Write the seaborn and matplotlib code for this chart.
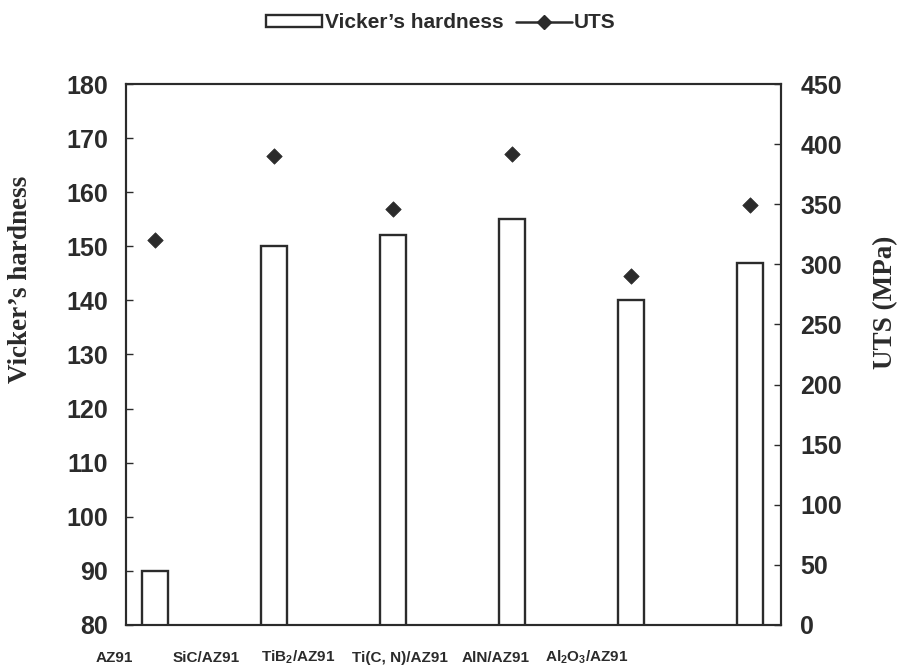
import numpy as np
import pandas as pd
import matplotlib
matplotlib.use("Agg")
import matplotlib.pyplot as plt
import matplotlib.transforms as mtransforms
import seaborn as sns
from matplotlib.patches import Patch
from matplotlib.lines import Line2D

# ---------------- data ----------------
categories = ["AZ91", "SiC/AZ91", "TiB2/AZ91", "Ti(C, N)/AZ91", "AlN/AZ91", "Al2O3/AZ91"]
tick_labels = ["AZ91", "SiC/AZ91", "TiB$_2$/AZ91", "Ti(C, N)/AZ91", "AlN/AZ91", "Al$_2$O$_3$/AZ91"]
hardness = [90, 150, 152, 155, 140, 147]
uts = [320, 390, 346, 392, 290, 349]
left_ticks = [80, 90, 100, 110, 120, 130, 140, 150, 160, 170, 180]
right_ticks = [0, 50, 100, 150, 200, 250, 300, 350, 400, 450]

# label placement (style): the original labels are shifted left of the bars
label_shift = [-0.34, -0.57, -0.80, -0.94, -1.14, -1.37]

# ---------------- style ----------------
sns.set_theme(style="white")
plt.rcParams["font.family"] = ["Liberation Sans", "DejaVu Sans"]
plt.rcParams["font.weight"] = "bold"
plt.rcParams["mathtext.fontset"] = "custom"
plt.rcParams["mathtext.bf"] = "Liberation Sans:bold"
plt.rcParams["mathtext.rm"] = "Liberation Sans:bold"
plt.rcParams["mathtext.default"] = "bf"

ink = "#2b2b2b"

df = pd.DataFrame({"cat": categories, "hardness": hardness, "uts": uts})

fig = plt.figure(figsize=(9.05, 6.7), dpi=100)
ax = fig.add_axes([126 / 905, 1 - 625 / 670, (781 - 126) / 905, (625 - 84) / 670])

sns.barplot(data=df, x="cat", y="hardness", ax=ax, width=0.218,
            color="white", edgecolor=ink, linewidth=1.7, saturation=1)

ax2 = ax.twinx()
sns.scatterplot(x=np.arange(len(uts)), y=df["uts"], ax=ax2, marker="D", s=62,
                color=ink, edgecolor=ink, linewidth=0.5, legend=False)

ax.set_xticks([])
ax.set_xlim(-0.244, 5.26)
ax.set_ylim(80, 180)
ax2.set_ylim(0, 450)
ax.set_yticks(left_ticks)
ax2.set_yticks(right_ticks)

# category labels, placed through the data (x) / axes (y) blended transform
trans = mtransforms.blended_transform_factory(ax.transData, ax.transAxes)
for i, (lab, s) in enumerate(zip(tick_labels, label_shift)):
    ax.text(i + s, (625 - 662) / 541, lab, transform=trans, ha="center",
            va="baseline", fontsize=11, fontweight="bold", color=ink, clip_on=False)

ax.tick_params(axis="y", direction="in", length=5, width=1, color=ink,
               labelsize=18, pad=13, labelcolor=ink, left=True)
ax2.tick_params(axis="y", direction="in", length=5, width=1, color=ink,
                labelsize=18, pad=14, labelcolor=ink, right=True)

ax.set_xlabel("")
ax.set_ylabel("Vicker\u2019s hardness", family=["Liberation Serif"], fontsize=19.5,
              fontweight="bold", color=ink)
ax.yaxis.set_label_coords((33 - 126) / 655, (625 - 279) / 541)
ax2.set_xlabel("")
ax2.set_ylabel("UTS (MPa)", family=["Liberation Serif"], fontsize=19.5,
               fontweight="bold", color=ink)
ax2.yaxis.set_label_coords((873 - 126) / 655, (625 - 302) / 541)

for a in (ax, ax2):
    for sp in a.spines.values():
        sp.set_visible(True)
        sp.set_color(ink)
        sp.set_linewidth(1.5)

handles = [Patch(facecolor="white", edgecolor=ink, linewidth=1.7),
           Line2D([0], [0], color=ink, lw=1.8, marker="D", markersize=7,
                  markerfacecolor=ink, markeredgecolor=ink)]
fig.legend(handles, ["Vicker\u2019s hardness", "UTS"], loc="center",
           bbox_to_anchor=(441 / 905, 1 - 23 / 670), ncol=2, frameon=False,
           fontsize=15, handlelength=2.7, handleheight=0.5, handletextpad=0.1,
           columnspacing=0.6, labelcolor=ink)

fig.savefig("out.png", dpi=100)
